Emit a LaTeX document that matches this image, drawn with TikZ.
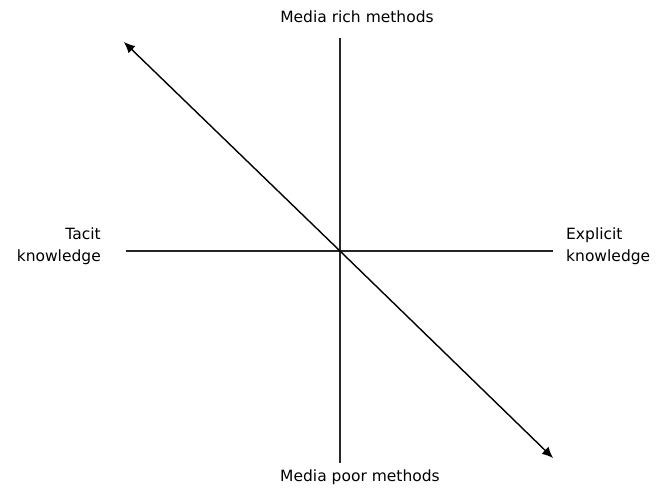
\documentclass[tikz,border=0pt]{standalone}
\usepackage{fontspec}
\setmainfont{DejaVu Sans}
\usetikzlibrary{arrows.meta}
\tikzset{
  lbl/.style={font=\fontsize{15.5}{22}\selectfont, inner sep=0pt},
  axis/.style={line width=1.3pt, draw=black!85},
  diag/.style={line width=1.4pt, -{Latex[length=11pt,width=10pt]}}
}
\begin{document}
\begin{tikzpicture}[x=1pt,y=1pt]
\useasboundingbox (0,0) rectangle (657,488);
% axes endpoints
\coordinate (top) at (340,450);
\coordinate (bot) at (340,25);
\coordinate (lft) at (126,237);
\coordinate (rgt) at (553,237);
\coordinate (ul) at (124,446);
\coordinate (lr) at (553,30);
\coordinate (c) at (340,237);
\draw[axis] (top) -- (bot);
\draw[axis] (lft) -- (rgt);
\draw[diag] (c) -- (ul);
\draw[diag] (c) -- (lr);
\node[lbl] (rich) at (357,471) {Media rich methods};
\node[lbl] (poor) at (360,11) {Media poor methods};
\node[lbl, align=right, anchor=east] (tacit) at (101,242) {Tacit\\knowledge};
\node[lbl, align=left, anchor=west] (expl) at (566,242) {Explicit\\knowledge};
\end{tikzpicture}
\end{document}
